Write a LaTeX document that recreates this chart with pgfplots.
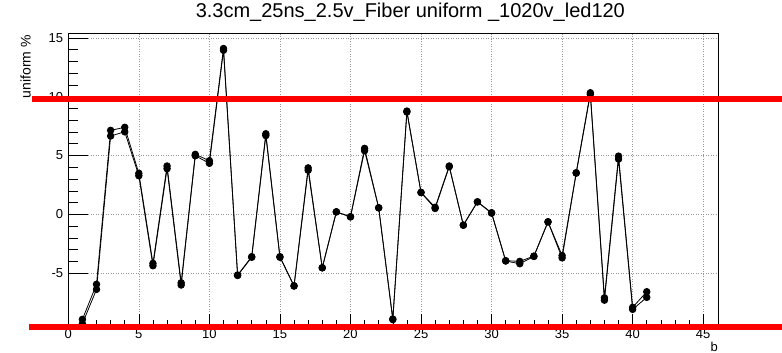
\documentclass[border=0pt]{standalone}
\usepackage{fontspec}
\setmainfont{Liberation Sans}
\usepackage{pgfplots}
\pgfplotsset{compat=1.18}
\pgfplotstableread{
x a b
1 -8.93 -9.30
2 -5.95 -6.38
3 7.14 6.66
4 7.40 7.02
5 3.49 3.28
6 -4.17 -4.37
7 4.11 3.88
8 -5.82 -6.01
9 5.10 4.98
10 4.56 4.34
11 14.10 13.95
12 -5.16 -5.20
13 -3.60 -3.65
14 6.85 6.70
15 -3.60 -3.65
16 -6.07 -6.10
17 3.95 3.75
18 -4.54 -4.55
19 0.22 0.20
20 -0.20 -0.22
21 5.61 5.41
22 0.56 0.55
23 -8.90 -8.95
24 8.78 8.70
25 1.87 1.85
26 0.60 0.50
27 4.11 4.05
28 -0.91 -0.93
29 1.07 1.05
30 0.14 0.10
31 -3.94 -3.97
32 -4.00 -4.20
33 -3.55 -3.58
34 -0.63 -0.65
35 -3.50 -3.70
36 3.54 3.50
37 10.34 10.20
38 -7.10 -7.30
39 4.95 4.70
40 -7.91 -8.08
41 -6.58 -7.06
}\datatable
\begin{document}
\begin{tikzpicture}[x=1pt,y=1pt]
\useasboundingbox (0,0) rectangle (782,353);
\begin{axis}[
  at={(68.3pt,28pt)}, anchor=south west,
  scale only axis, width=649.7pt, height=292pt,
  xmin=0, xmax=46.05, ymin=-9.41, ymax=15.42,
  xtick={0,5,...,45}, minor x tick num=4,
  ytick={-5,0,5,10,15}, minor y tick num=4,
  tick align=inside, xtick pos=bottom, ytick pos=left,
  major tick length=20pt, minor tick length=10pt,
  xtick style={draw=none},
  ytick style={black, line width=0.6pt},
  xmajorgrids, ymajorgrids,
  major grid style={gray!80, line width=0.5pt, dash pattern=on 1pt off 1.5pt},
  axis line style={black, line width=0.7pt},
  /pgf/number format/assume math mode=true,
  ticklabel style={font=\fontsize{13}{15}\selectfont, inner sep=0pt},
  yticklabel style={anchor=east, xshift=-5pt},
  xticklabel style={anchor=north, yshift=-4pt},
  title={3.3cm\_25ns\_2.5v\_Fiber uniform \_1020v\_led120},
  title style={at={(0.5265,1.033)}, anchor=base, inner sep=0pt, font=\fontsize{20}{22}\selectfont},
  ylabel={uniform \%},
  ylabel style={at={(-0.0579,0.993)}, anchor=base east, inner sep=0pt, font=\fontsize{14}{16}\selectfont},
  xlabel={b},
  xlabel style={at={(1,-0.0914)}, anchor=base east, inner sep=0pt, font=\fontsize{13}{15}\selectfont},
]
\addplot[black, line width=0.8pt, mark=*, mark size=3.3pt] table[x=x, y=a] {\datatable};
\addplot[black, line width=0.8pt, mark=*, mark size=3.3pt] table[x=x, y=b] {\datatable};
\end{axis}
\begin{axis}[
  at={(68.3pt,28pt)}, anchor=south west,
  scale only axis, width=649.7pt, height=292pt,
  xmin=0, xmax=46.05, ymin=-9.41, ymax=15.42,
  xtick={0,5,...,45}, minor x tick num=4, ytick=\empty,
  xticklabels={},
  tick align=inside, xtick pos=bottom,
  major tick length=10.6pt, minor tick length=5.3pt,
  xtick style={black, line width=0.6pt},
  axis line style={draw=none},
  clip=false,
]
\addplot[red, line width=6pt, forget plot] coordinates {(-2.59,9.83) (50.6,9.83)};
\addplot[red, line width=6pt, forget plot] coordinates {(-2.77,-9.58) (50.6,-9.58)};
\end{axis}
\end{tikzpicture}
\end{document}
